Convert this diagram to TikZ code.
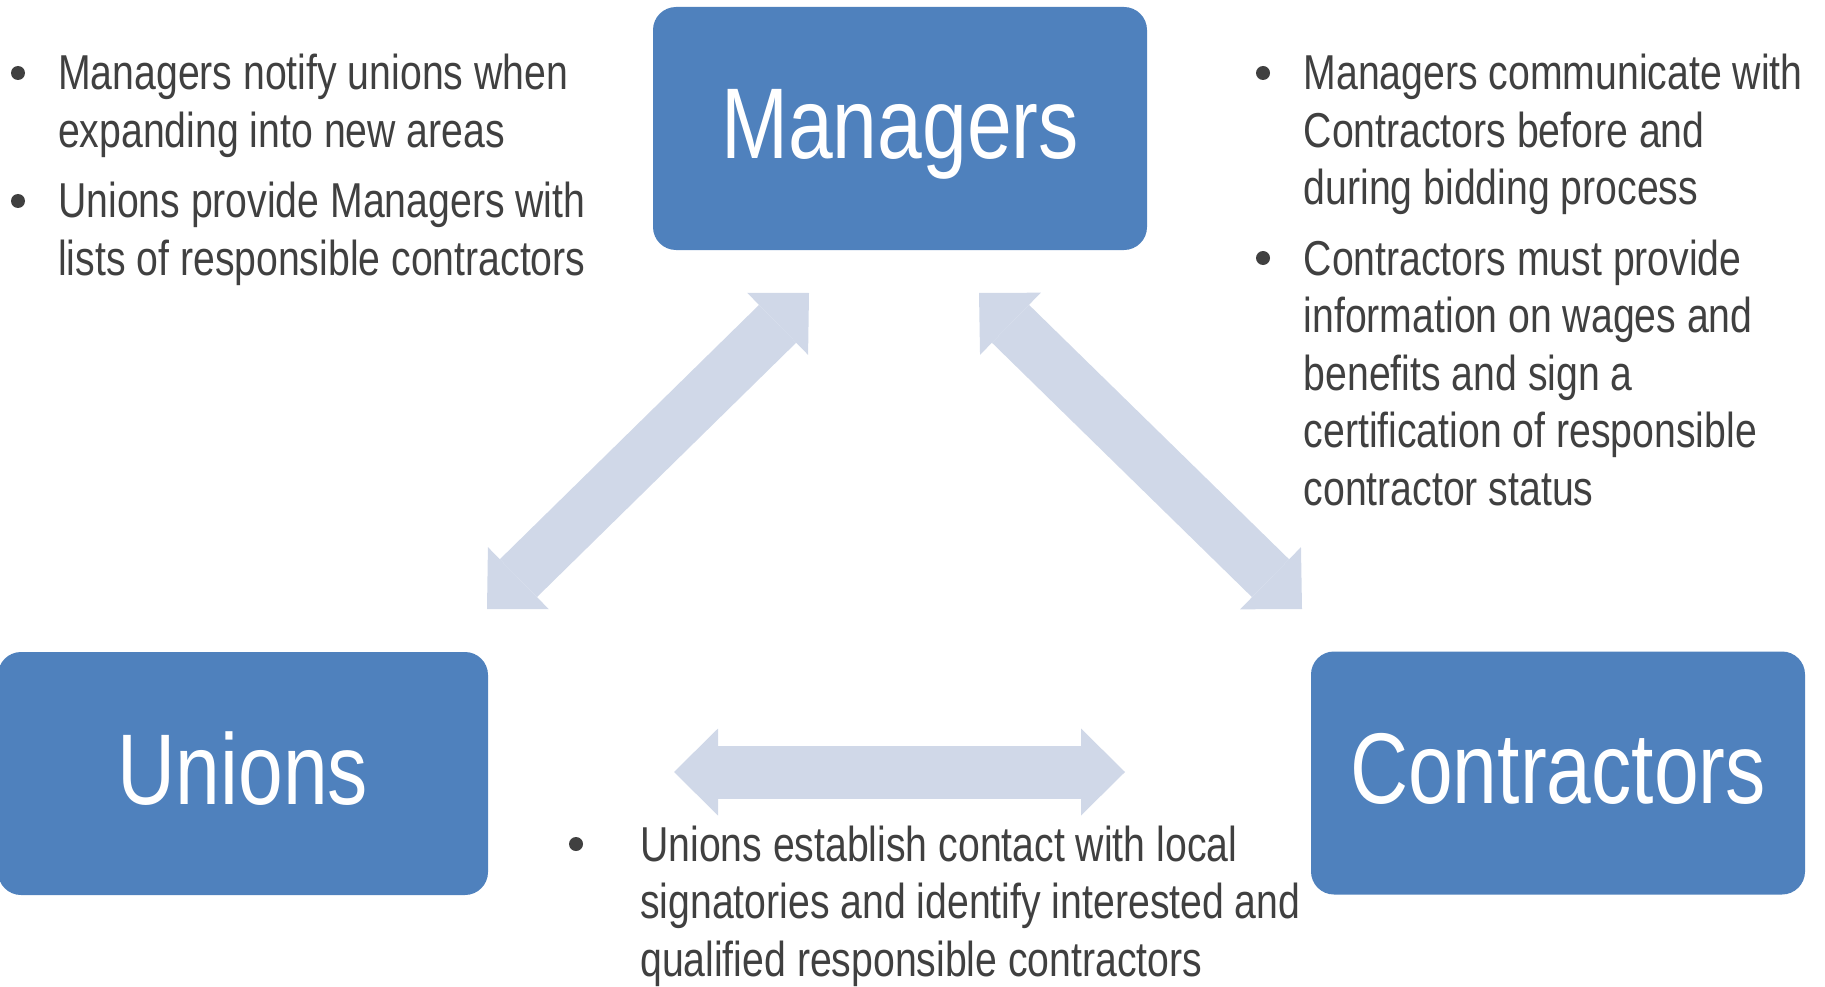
\documentclass[tikz,border=0pt]{standalone}
\usepackage{fontspec}
\setmainfont{Liberation Sans}[FakeStretch=0.80]
\usetikzlibrary{arrows.meta}
\definecolor{boxblue}{HTML}{4F81BD}
\definecolor{arrowblue}{HTML}{D0D8E8}
\definecolor{txtgray}{HTML}{404040}
\newcommand{\bulpar}[1]{\begin{tabular}[t]{@{}l@{}}#1\end{tabular}}
\begin{document}
\begin{tikzpicture}[x=1pt,y=-1pt,
  entity/.style={fill=boxblue, rounded corners=23pt, minimum width=494pt,
    minimum height=243pt, inner sep=0pt, text=white,
    font=\fontsize{100.5}{112}\selectfont, text height=71pt, text depth=10pt},
  blockarrow/.style={draw=arrowblue, line width=53pt,
    {Triangle[length=44pt,width=87pt,line width=0pt]}-{Triangle[length=44pt,width=87pt,line width=0pt]}},
  bultext/.style={anchor=base west, inner sep=0pt, text=txtgray,
    font=\fontsize{49}{57.5}\selectfont},
  bulletdot/.style={fill=txtgray}]
\useasboundingbox (0,0) rectangle (1825,987);

% boxes
\node[entity] (managers) at (900,128.5) {Managers};
\node[entity, minimum width=490pt] (unions) at (243,773.5) {Unions};
\node[entity] (contractors) at (1558,773) {Contractors};

% arrow end points
\coordinate (mL) at (809,293);
\coordinate (uM) at (487,609);
\coordinate (mR) at (979,293);
\coordinate (cM) at (1302,609);
\coordinate (uC) at (674,772);
\coordinate (cU) at (1125,772);

\draw[blockarrow] (mL) -- (uM);
\draw[blockarrow] (mR) -- (cM);
\draw[blockarrow] (uC) -- (cU);

% left text
\fill[bulletdot] (18,73) circle (7);
\node[bultext] (l1) at (58,90) {\bulpar{Managers notify unions when\\expanding into new areas}};
\fill[bulletdot] (18,201) circle (7);
\node[bultext] (l2) at (58,218) {\bulpar{Unions provide Managers with\\lists of responsible contractors}};

% right text
\fill[bulletdot] (1263,73) circle (7);
\node[bultext] (r1) at (1303.5,90) {\bulpar{Managers communicate with\\Contractors before and\\during bidding process}};
\fill[bulletdot] (1263,258) circle (7);
\node[bultext] (r2) at (1303.5,275) {\bulpar{Contractors must provide\\information on wages and\\benefits and sign a\\certification of responsible\\contractor status}};

% bottom text
\fill[bulletdot] (576,844) circle (7);
\node[bultext] (b1) at (640,861) {\bulpar{Unions establish contact with local\\signatories and identify interested and\\qualified responsible contractors}};
\end{tikzpicture}
\end{document}
